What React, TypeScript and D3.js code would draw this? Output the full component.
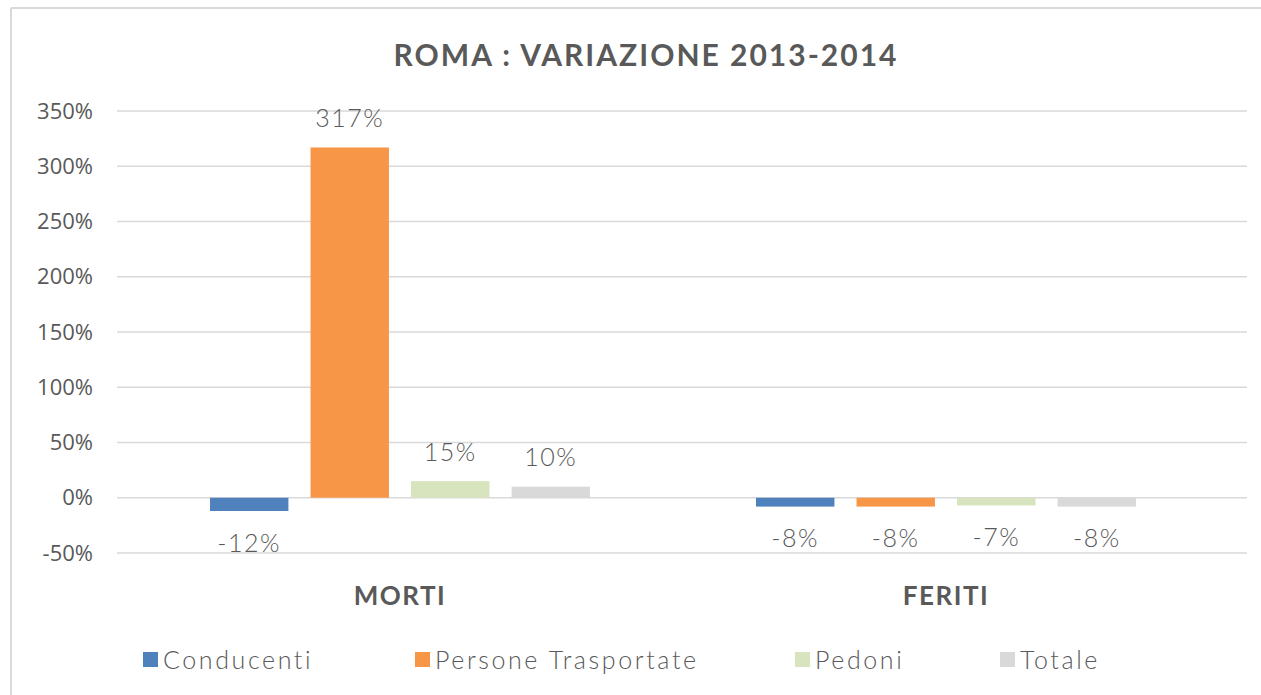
import React from "react";
import * as d3 from "d3";

const categories = ["MORTI", "FERITI"];
const seriesNames = ["Conducenti", "Persone Trasportate", "Pedoni", "Totale"];
const seriesColors = ["#4f81bd", "#f79646", "#d7e4bd", "#d9d9d9"];
const conducenti = [-12, -8];
const personeTrasportate = [317, -8];
const pedoni = [15, -7];
const totale = [10, -8];
const yTicks = [-50, 0, 50, 100, 150, 200, 250, 300, 350];

const W = 1261;
const H = 695;

export default function App() {
  const series = [conducenti, personeTrasportate, pedoni, totale];
  const y = d3.scaleLinear().domain([-50, 350]).range([553, 111]);
  const x0 = d3.scaleBand<string>().domain(categories).range([127, 1219]).paddingInner(0).paddingOuter(0);
  const groupW = 380;
  const x1 = d3
    .scaleBand<string>()
    .domain(seriesNames)
    .range([0, groupW])
    .paddingInner(0.22)
    .paddingOuter(0);
  const gridX1 = 117;
  const gridX2 = 1247;
  const text = "#595959";
  const labelFont = "'Lato', 'Open Sans', sans-serif";

  const legendX = [143, 415, 795, 1000];

  return (
    <svg
      width={W}
      height={H}
      style={{ position: "absolute", left: 0, top: 0, background: "#fff" }}
    >
      <rect x={0} y={0} width={W} height={H} fill="#fff" />
      <line x1={11} y1={8} x2={W} y2={8} stroke="#d9d9d9" strokeWidth={2} />
      <line x1={11} y1={8} x2={11} y2={H} stroke="#d9d9d9" strokeWidth={2} />

      <text
        x={646}
        y={66}
        textAnchor="middle"
        fontFamily={labelFont}
        fontWeight={700}
        fontSize={30}
        letterSpacing={2}
        fill={text}
      >
        ROMA : VARIAZIONE 2013-2014
      </text>

      {yTicks.map((t) => (
        <g key={t}>
          <line x1={gridX1} x2={gridX2} y1={y(t)} y2={y(t)} stroke="#d9d9d9" strokeWidth={1.5} />
          <text
            x={93}
            y={y(t)}
            dy="0.35em"
            textAnchor="end"
            fontFamily="'Open Sans', sans-serif"
            fontSize={22}
            fill={text}
          >
            {t}%
          </text>
        </g>
      ))}

      {categories.map((c, ci) => {
        const gx = (x0(c) as number) + (x0.bandwidth() - groupW) / 2;
        return (
          <g key={c}>
            {seriesNames.map((s, si) => {
              const v = series[si][ci];
              const bx = gx + (x1(s) as number);
              const bw = x1.bandwidth();
              const top = Math.min(y(v), y(0));
              const h = Math.abs(y(v) - y(0));
              const ly = v >= 0 ? y(v) - 29 : y(v) + 32;
              return (
                <g key={s}>
                  <rect x={bx} y={top} width={bw} height={h} fill={seriesColors[si]} />
                  <text
                    x={bx + bw / 2}
                    y={ly}
                    dy="0.35em"
                    textAnchor="middle"
                    fontFamily={labelFont}
                    fontWeight={300}
                    fontSize={25}
                    letterSpacing={1.5}
                    fill={text}
                  >
                    {v}%
                  </text>
                </g>
              );
            })}
            <text
              x={(x0(c) as number) + x0.bandwidth() / 2}
              y={596}
              dy="0.35em"
              textAnchor="middle"
              fontFamily={labelFont}
              fontWeight={700}
              fontSize={26}
              letterSpacing={1.5}
              fill={text}
            >
              {c}
            </text>
          </g>
        );
      })}

      {seriesNames.map((s, si) => (
        <g key={s}>
          <rect x={legendX[si]} y={652} width={15} height={15} fill={seriesColors[si]} />
          <text
            x={legendX[si] + 20}
            y={660}
            dy="0.35em"
            fontFamily={labelFont}
            fontWeight={300}
            fontSize={25}
            letterSpacing={2.6}
            fill={text}
          >
            {s}
          </text>
        </g>
      ))}
    </svg>
  );
}
